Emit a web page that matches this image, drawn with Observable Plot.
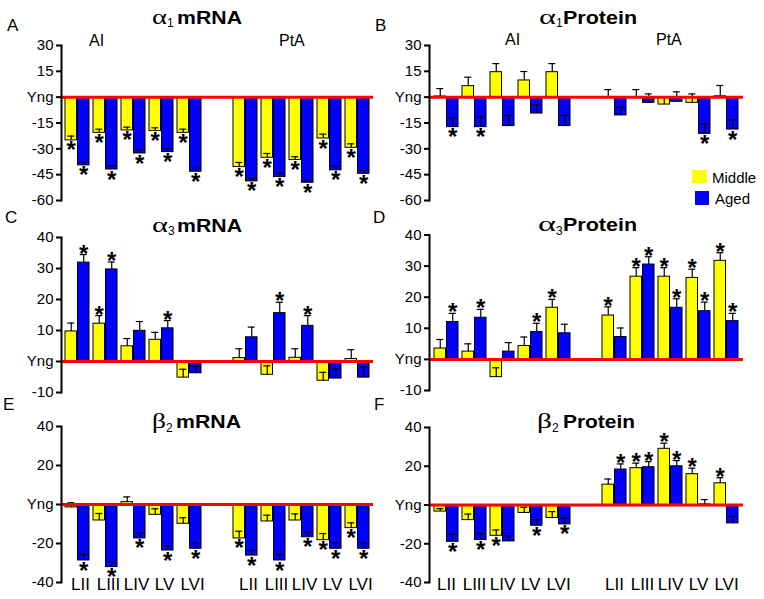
<!DOCTYPE html>
<html>
<head>
<meta charset="utf-8">
<script src="https://cdn.jsdelivr.net/npm/d3@7"></script>
<script src="https://cdn.jsdelivr.net/npm/@observablehq/plot@0.6"></script>
<style>
  html, body { margin: 0; padding: 0; background: #fff; }
  #wrap { position: relative; width: 764px; height: 599px; overflow: hidden; font-family: "Liberation Sans", Arial, sans-serif; }
  #wrap > svg { position: absolute; }
</style>
</head>
<body>
<div id="wrap"></div>
<script>
// ---------- categories ----------
const regions = ["AI", "PtA"];
const layers = ["LII", "LIII", "LIV", "LV", "LVI"];
const seriesNames = ["Middle", "Aged"];

// ---------- α1 mRNA (panel A) ----------
const a1mRNA_mid     = [-25.1, -20.7, -19.3, -19.7, -20.7, -40.6, -35.2, -36.5, -24.0, -29.4];
const a1mRNA_midErr  = [2.5, 2.1, 1.9, 1.9, 2.1, 2.7, 2.5, 1.9, 2.5, 2.3];
const a1mRNA_midSig  = [1, 1, 1, 1, 1, 1, 1, 1, 1, 1];
const a1mRNA_aged    = [-39.6, -42.0, -32.7, -31.9, -43.3, -48.9, -46.4, -49.7, -42.5, -44.5];
const a1mRNA_agedErr = [1.9, 2.2, 2.1, 1.9, 2.3, 1.7, 2.3, 1.6, 2.5, 2.0];
const a1mRNA_agedSig = [1, 1, 1, 1, 1, 1, 1, 1, 1, 1];

// ---------- α1 Protein (panel B) ----------
const a1Prot_mid     = [0.4, 6.4, 14.5, 9.7, 14.5, -0.5, -0.5, -4.3, -3.3, 0.5];
const a1Prot_midErr  = [4.6, 5.2, 5.0, 5.2, 5.0, 4.9, 4.9, 4.3, 5.2, 6.3];
const a1Prot_midSig  = [0, 0, 0, 0, 0, 0, 0, 0, 0, 0];
const a1Prot_aged    = [-17.4, -17.4, -16.8, -9.5, -16.8, -10.6, -3.3, -2.7, -21.3, -18.8];
const a1Prot_agedErr = [5.4, 6.0, 6.2, 5.2, 6.2, 4.8, 5.2, 5.8, 5.8, 5.5];
const a1Prot_agedSig = [1, 1, 0, 0, 0, 0, 0, 0, 1, 1];

// ---------- α3 mRNA (panel C) ----------
const a3mRNA_mid     = [9.7, 12.2, 4.9, 7.0, -5.2, 1.1, -4.3, 1.2, -6.2, 0.8];
const a3mRNA_midErr  = [2.7, 2.6, 2.5, 2.4, 2.7, 3.0, 2.9, 2.9, 2.7, 3.0];
const a3mRNA_midSig  = [0, 1, 0, 0, 0, 0, 0, 0, 0, 0];
const a3mRNA_aged    = [31.9, 29.7, 9.9, 10.7, -3.8, 7.8, 15.6, 11.5, -5.5, -5.2];
const a3mRNA_agedErr = [2.6, 2.4, 3.0, 2.5, 2.2, 3.3, 3.5, 3.3, 3.1, 3.4];
const a3mRNA_agedSig = [1, 1, 0, 1, 0, 0, 1, 1, 0, 0];

// ---------- α3 Protein (panel D) ----------
const a3Prot_mid     = [3.5, 2.5, -5.7, 4.3, 16.6, 14.1, 26.6, 26.6, 26.2, 31.7];
const a3Prot_midErr  = [2.9, 2.5, 3.0, 2.9, 2.7, 2.8, 2.9, 2.9, 2.8, 2.6];
const a3Prot_midSig  = [0, 0, 0, 0, 1, 1, 1, 1, 1, 1];
const a3Prot_aged    = [12.0, 13.4, 2.5, 8.8, 8.4, 7.2, 30.5, 16.6, 15.5, 12.3];
const a3Prot_agedErr = [2.8, 2.7, 2.9, 2.8, 2.9, 2.9, 2.5, 2.9, 2.9, 2.5];
const a3Prot_agedSig = [1, 1, 0, 1, 0, 0, 1, 1, 1, 1];

// ---------- β2 mRNA (panel E) ----------
const b2mRNA_mid     = [-1.5, -8.2, 1.2, -5.3, -9.9, -17.4, -8.7, -8.2, -18.3, -12.1];
const b2mRNA_midErr  = [2.4, 3.6, 2.7, 3.1, 3.1, 3.7, 3.2, 3.4, 3.4, 2.7];
const b2mRNA_midSig  = [0, 0, 0, 0, 0, 1, 0, 0, 1, 1];
const b2mRNA_aged    = [-28.7, -32.1, -17.4, -23.6, -22.7, -26.2, -28.7, -16.8, -22.7, -22.7];
const b2mRNA_agedErr = [3.1, 2.7, 2.9, 2.2, 3.0, 2.8, 3.1, 2.8, 3.0, 3.0];
const b2mRNA_agedSig = [1, 1, 1, 1, 1, 1, 1, 1, 1, 1];

// ---------- β2 Protein (panel F) ----------
const b2Prot_mid     = [-3.4, -7.8, -15.9, -4.1, -6.7, 10.5, 19.0, 29.0, 15.9, 11.2];
const b2Prot_midErr  = [1.5, 3.1, 3.0, 2.9, 3.3, 2.9, 2.6, 2.9, 3.1, 2.9];
const b2Prot_midSig  = [0, 0, 1, 0, 0, 0, 1, 1, 1, 1];
const b2Prot_aged    = [-19.0, -18.1, -18.8, -10.7, -10.0, 18.3, 19.5, 20.0, 0.3, -9.5];
const b2Prot_agedErr = [4.0, 3.4, 2.9, 3.1, 3.3, 2.9, 2.9, 2.9, 2.5, 3.6];
const b2Prot_agedSig = [1, 1, 0, 1, 1, 1, 1, 1, 0, 0];

// ---------- y ticks ----------
const ticks_1 = [30, 15, 0, -15, -30, -45, -60];
const ticks_3 = [40, 30, 20, 10, 0, -10];
const ticks_b = [40, 20, 0, -20, -40];
const zeroLabel = "Yng";

// ---------- build ----------
const barKeys = regions.flatMap(r => layers.map(l => r + " " + l));
const slotDomain = [...barKeys.slice(0, 5), "gap", ...barKeys.slice(5)];

function rows(mid, midErr, midSig, aged, agedErr, agedSig) {
  const out = [];
  barKeys.forEach((k, i) => {
    out.push({slot: k, series: seriesNames[0], value: mid[i], err: midErr[i], sig: !!midSig[i]});
    out.push({slot: k, series: seriesNames[1], value: aged[i], err: agedErr[i], sig: !!agedSig[i]});
  });
  return out;
}

const colors = {Middle: "#ffff00", Aged: "#0000ff"};
const wrap = document.getElementById("wrap");

function panel(data, cfg) {
  const marks = [];
  seriesNames.forEach((s, si) => {
    const d = data.filter(r => r.series === s);
    const left = si === 0;
    marks.push(Plot.barY(d, {
      x: "slot", y: "value", fill: colors[s], stroke: "#000", strokeWidth: 1,
      insetLeft: left ? 0 : 12.5, insetRight: left ? 12.5 : 0
    }));
    const off = left ? -6.25 : 6.25;
    marks.push(Plot.ruleX(d, {x: "slot", y1: "value", y2: r => r.value + r.err, dx: off, stroke: "#000", strokeWidth: 1.2}));
    marks.push(Plot.tickY(d, {x: "slot", y: r => r.value + r.err, stroke: "#000", strokeWidth: 1.2,
      insetLeft: left ? 2.25 : 14.75, insetRight: left ? 14.75 : 2.25}));
  });
  marks.push(Plot.ruleY([0], {stroke: "#ff0000", strokeWidth: 3}));
  seriesNames.forEach((s, si) => {
    const off = si === 0 ? -6.25 : 6.25;
    const neg = data.filter(r => r.series === s && r.sig && r.value < 0);
    const pos = data.filter(r => r.series === s && r.sig && r.value >= 0);
    marks.push(Plot.text(neg, {x: "slot", y: "value", text: () => "*", dx: off, dy: 1, lineAnchor: "top", fontSize: 24, fontWeight: "bold", fill: "#000"}));
    marks.push(Plot.text(pos, {x: "slot", y: r => r.value + r.err, text: () => "*", dx: off, dy: 7, lineAnchor: "bottom", fontSize: 24, fontWeight: "bold", fill: "#000"}));
  });
  marks.push(Plot.axisY({ticks: cfg.ticks, tickFormat: d => d === 0 ? zeroLabel : String(d), tickSize: 5, tickPadding: 3, strokeWidth: 2, fontSize: 15, label: null}));
  marks.push(Plot.frame({anchor: "left", strokeWidth: 2}));
  if (cfg.xLabels) {
    marks.push(Plot.axisX({tickSize: 0, tickPadding: -5, fontSize: 17, dx: cfg.labelDx || 0, label: null,
      tickFormat: k => k === "gap" ? "" : k.split(" ")[1]}));
  }
  const svg = Plot.plot({
    width: cfg.width, height: cfg.height,
    marginLeft: cfg.mL, marginRight: cfg.mR, marginTop: cfg.mT, marginBottom: cfg.mB,
    x: {type: "band", domain: slotDomain, paddingInner: 0.16, paddingOuter: 0.05, axis: cfg.xLabels ? undefined : null},
    y: {domain: cfg.domain, label: null},
    style: {fontFamily: "'Liberation Sans', Arial, sans-serif", fontSize: "15px", color: "#000", background: "transparent", overflow: "visible"},
    marks
  });
  svg.style.left = cfg.left + "px";
  svg.style.top = cfg.top + "px";
  wrap.appendChild(svg);
}

panel(rows(a1mRNA_mid, a1mRNA_midErr, a1mRNA_midSig, a1mRNA_aged, a1mRNA_agedErr, a1mRNA_agedSig),
  {left: 0, top: 0, width: 380, height: 210, mL: 61, mR: 7, mT: 45, mB: 10, domain: [-60, 30], ticks: ticks_1});
panel(rows(a1Prot_mid, a1Prot_midErr, a1Prot_midSig, a1Prot_aged, a1Prot_agedErr, a1Prot_agedSig),
  {left: 380, top: 0, width: 384, height: 210, mL: 49, mR: 21, mT: 45, mB: 10, domain: [-60, 30], ticks: ticks_1});
panel(rows(a3mRNA_mid, a3mRNA_midErr, a3mRNA_midSig, a3mRNA_aged, a3mRNA_agedErr, a3mRNA_agedSig),
  {left: 0, top: 215, width: 380, height: 185, mL: 61, mR: 7, mT: 22, mB: 8, domain: [-10, 40], ticks: ticks_3});
panel(rows(a3Prot_mid, a3Prot_midErr, a3Prot_midSig, a3Prot_aged, a3Prot_agedErr, a3Prot_agedSig),
  {left: 380, top: 215, width: 384, height: 185, mL: 49, mR: 21, mT: 19.5, mB: 10, domain: [-10, 40], ticks: ticks_3});
panel(rows(b2mRNA_mid, b2mRNA_midErr, b2mRNA_midSig, b2mRNA_aged, b2mRNA_agedErr, b2mRNA_agedSig),
  {left: 0, top: 405, width: 380, height: 194, mL: 61, mR: 7, mT: 21, mB: 17, domain: [-40, 40], ticks: ticks_b, xLabels: true, labelDx: 3});
panel(rows(b2Prot_mid, b2Prot_midErr, b2Prot_midSig, b2Prot_aged, b2Prot_agedErr, b2Prot_agedSig),
  {left: 380, top: 405, width: 384, height: 194, mL: 49, mR: 21, mT: 22, mB: 17, domain: [-40, 40], ticks: ticks_b, xLabels: true});

// ---------- annotations (titles, panel letters, region labels, legend) ----------
const ov = d3.select(wrap).append("svg")
  .attr("width", 764).attr("height", 599)
  .style("left", "0px").style("top", "0px").style("pointer-events", "none")
  .attr("font-family", "'Liberation Sans', Arial, sans-serif");

const letters = [
  {t: "A", x: 7, y: 31}, {t: "B", x: 375, y: 31},
  {t: "C", x: 5, y: 223}, {t: "D", x: 373, y: 223},
  {t: "E", x: 3, y: 410}, {t: "F", x: 374, y: 410}
];
ov.selectAll("text.letter").data(letters).join("text").attr("class", "letter")
  .attr("x", d => d.x).attr("y", d => d.y).attr("font-size", 17).text(d => d.t);

const titles = [
  {g: "α", s: "1", w: "mRNA",    gx: 152, sx: 167, wx: 177, ww: 65, y: 23.5},
  {g: "α", s: "1", w: "Protein", gx: 539, sx: 556, wx: 563, ww: 74, y: 23.5},
  {g: "α", s: "3", w: "mRNA",    gx: 152, sx: 168, wx: 177, ww: 65, y: 231.5},
  {g: "α", s: "3", w: "Protein", gx: 538, sx: 556, wx: 563, ww: 74, y: 231},
  {g: "β", s: "2", w: "mRNA",    gx: 152, sx: 166, wx: 176, ww: 65, y: 428},
  {g: "β", s: "2", w: "Protein", gx: 537, sx: 552, wx: 563, ww: 72, y: 428}
];
titles.forEach(t => {
  ov.append("text").attr("x", t.gx).attr("y", t.y).attr("font-family", "'Liberation Serif', 'DejaVu Serif', serif")
    .attr("font-size", 22).attr("textLength", t.sx - t.gx).attr("lengthAdjust", "spacingAndGlyphs").text(t.g);
  ov.append("text").attr("x", t.sx).attr("y", t.y + 3.5).attr("font-size", 12).text(t.s);
  ov.append("text").attr("x", t.wx).attr("y", t.y).attr("font-size", 19).attr("font-weight", "bold")
    .attr("textLength", t.ww).attr("lengthAdjust", "spacingAndGlyphs").text(t.w);
});

const regionLabels = [
  {t: regions[0], x: 89, y: 46}, {t: regions[1], x: 279, y: 46},
  {t: regions[0], x: 505, y: 45}, {t: regions[1], x: 656, y: 45}
];
ov.selectAll("text.region").data(regionLabels).join("text").attr("class", "region")
  .attr("x", d => d.x).attr("y", d => d.y).attr("font-size", 16).text(d => d.t);

const legendItems = [
  {name: seriesNames[0], rx: 692, ry: 170, rw: 15, rh: 13, tx: 712, ty: 183},
  {name: seriesNames[1], rx: 695, ry: 191, rw: 14, rh: 14, tx: 715, ty: 204}
];
legendItems.forEach(l => {
  ov.append("rect").attr("x", l.rx).attr("y", l.ry).attr("width", l.rw).attr("height", l.rh).attr("fill", colors[l.name]);
  ov.append("text").attr("x", l.tx).attr("y", l.ty).attr("font-size", 15).text(l.name);
});
</script>
</body>
</html>
